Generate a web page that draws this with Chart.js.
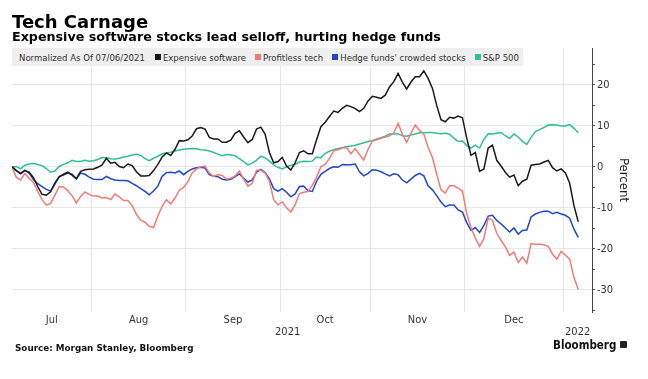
<!DOCTYPE html>
<html>
<head>
<meta charset="utf-8">
<script src="https://cdn.jsdelivr.net/npm/chart.js@4.4.1/dist/chart.umd.min.js"></script>
<style>
  html, body { margin: 0; padding: 0; background: #fff; width: 648px; height: 379px; overflow: hidden; }
  #wrap { position: relative; width: 648px; height: 379px; }
  #chart { position: absolute; left: 0; top: 0; }
  .txt { position: absolute; white-space: nowrap; line-height: 1; color: #000; }
  #title { left: 12px; top: 11px; font: bold 18px "DejaVu Sans"; }
  #subtitle { left: 12px; top: 29px; font: bold 12.7px "DejaVu Sans"; }
  #legend { position: absolute; left: 12px; top: 48px; width: 511px; height: 18px; background: #efefef;
            display: flex; align-items: center; font: 9.5px "DejaVu Sans Condensed", "DejaVu Sans"; color: #333;
            white-space: nowrap; box-sizing: border-box; padding-left: 7px; z-index: 2; }
  #legend .pre { margin-right: 10px; }
  #legend .item { display: flex; align-items: center; margin-right: 9px; }
  #legend .sw { width: 6px; height: 6px; margin-right: 2px; }
  #source { left: 15px; top: 343px; font: bold 8.8px "DejaVu Sans"; color: #111; }
  #brand { left: 553px; top: 338px; font: bold 11.5px "DejaVu Sans Condensed", "DejaVu Sans"; color: #111; }
  #logo { position: absolute; left: 620px; top: 341px; width: 7px; height: 7px; background: #222; border-radius: 1px; }
</style>
</head>
<body>
<div id="wrap">
  <canvas id="chart" width="648" height="379"></canvas>
  <div class="txt" id="title">Tech Carnage</div>
  <div class="txt" id="subtitle">Expensive software stocks lead selloff, hurting hedge funds</div>
  <div id="legend"></div>
  <div class="txt" id="source">Source: Morgan Stanley, Bloomberg</div>
  <div class="txt" id="brand">Bloomberg</div>
  <div id="logo"></div>
</div>
<script>
// ---------------- data ----------------
const startDate = '2021-07-06';      // normalization date (first weekday)
const weekdayCount = 133;            // weekdays through 2022-01-06
const legendPrefix = 'Normalized As Of 07/06/2021';
const seriesNames = ['Expensive software', 'Profitless tech', "Hedge funds' crowded stocks", 'S&P 500'];
const monthLabels = ['Jul', 'Aug', 'Sep', 'Oct', 'Nov', 'Dec'];
const yearLabels = ['2021', '2022'];
const yTickValues = [-30, -20, -10, 0, 10, 20];

const expensiveSoftware = [
  0,-0.9,-1.7,-0.9,-1.3,-2.6,-4.8,-6.7,-6.9,-6.1,
  -3.9,-2.5,-1.8,-1.3,-2.0,-2.9,-1.1,-0.7,-0.6,-0.5,
  -0.1,0.5,2.1,0.9,1.1,0.1,-0.2,0.7,0.3,-1.2,
  -2.2,-2.2,-2.1,-0.9,0.6,2.4,3.4,2.8,4.3,6.4,
  6.3,6.6,7.5,9.3,9.6,9.2,7.2,6.8,6.8,6.0,
  6.0,6.5,8.2,8.8,7.3,5.9,6.7,9.2,9.7,8.0,
  3.5,1.0,1.3,2.3,0.2,-0.8,1.0,3.5,3.9,3.2,
  3.2,6.6,9.8,10.9,12.3,13.6,13.3,14.3,15.0,14.7,
  14.2,13.5,14.3,16.1,17.2,17.0,16.7,17.5,19.5,20.8,
  22.8,20.7,19.0,20.7,22.0,22.0,23.4,21.6,19.2,15.0,
  11.5,11.0,12.1,11.9,12.4,12.0,7.0,2.8,3.5,-1.1,
  -0.5,4.6,5.3,1.6,0.2,-1.3,-2.5,-2.0,-4.6,-3.5,
  -3.0,0.4,0.6,0.7,1.2,1.6,-0.2,-1.0,-0.5,-1.5,
  -4.0,-9.5,-13.4
];
const profitlessTech = [
  0,-2.5,-3.2,-1.6,-2.8,-3.8,-6.0,-8.0,-9.3,-8.9,
  -6.9,-4.8,-4.9,-5.8,-7.0,-8.8,-7.2,-6.1,-6.7,-7.1,
  -7.1,-7.6,-7.5,-8.0,-6.6,-7.3,-8.2,-8.2,-9.4,-11.6,
  -13.0,-13.5,-14.5,-14.8,-12.0,-9.6,-8.0,-9.0,-7.6,-5.7,
  -5.0,-3.6,-1.5,-0.5,0.0,0.2,-1.5,-2.3,-1.9,-2.1,
  -3.0,-2.8,-2.2,-1.0,-3.0,-4.7,-4.0,-0.8,-0.8,-1.5,
  -3.5,-8.0,-9.3,-8.5,-10.0,-11.0,-9.2,-6.5,-6.2,-6.0,
  -4.5,-2.5,0.0,0.6,2.0,3.9,4.2,4.6,4.7,3.2,
  4.5,3.0,1.7,4.3,6.3,6.6,7.0,7.3,7.6,8.3,
  10.6,8.0,6.0,8.2,10.2,8.9,8.0,4.8,2.3,-1.8,
  -5.6,-6.4,-4.6,-4.6,-5.2,-5.9,-11.5,-14.8,-17.4,-19.4,
  -17.5,-12.5,-13.0,-16.2,-17.9,-19.5,-21.6,-20.8,-23.3,-22.0,
  -23.5,-18.7,-18.9,-18.9,-19.0,-19.4,-21.3,-22.5,-20.6,-21.5,
  -22.5,-27.0,-29.9
];
const hedgeFundsCrowded = [
  0,-0.9,-1.5,-0.8,-1.5,-3.1,-4.1,-4.8,-5.5,-5.9,
  -4.2,-2.3,-2.0,-1.5,-1.8,-2.9,-1.5,-1.8,-2.5,-3.0,
  -3.1,-3.1,-2.3,-2.9,-3.2,-3.3,-3.3,-3.4,-4.0,-4.6,
  -5.3,-6.0,-6.8,-5.9,-4.7,-2.3,-1.4,-1.3,-1.5,-1.0,
  -1.9,-1.1,-0.5,-0.2,-0.1,-0.3,-1.9,-2.3,-2.4,-3.0,
  -3.2,-3.0,-2.4,-1.7,-2.8,-3.7,-3.2,-1.3,-0.6,-1.4,
  -2.9,-5.3,-5.9,-5.3,-6.2,-7.3,-6.6,-4.8,-4.7,-5.8,
  -6.0,-3.5,-1.8,-1.1,-0.4,0.0,-0.1,0.6,0.5,0.5,
  0.7,-1.2,-2.2,-1.6,-0.7,-0.8,-1.2,-1.7,-2.2,-1.7,
  -1.9,-3.2,-3.9,-3.0,-2.1,-1.6,-2.2,-4.6,-5.6,-7.0,
  -8.6,-9.7,-9.3,-9.3,-10.5,-11.0,-13.6,-15.5,-14.8,-16.0,
  -14.3,-12.0,-11.8,-13.1,-13.9,-14.9,-15.9,-14.9,-16.4,-15.5,
  -15.4,-12.2,-11.5,-11.1,-10.8,-10.8,-11.4,-11.1,-11.5,-11.8,
  -12.5,-15.2,-17.2
];
const sp500 = [
  0,0.1,-0.5,0.4,0.7,0.8,0.6,0.3,-0.4,-1.3,
  -1.0,0.1,0.6,1.0,1.6,1.3,1.3,1.6,1.4,1.5,
  1.8,2.3,2.2,2.0,1.9,2.1,2.4,2.6,2.9,3.1,
  2.8,2.0,1.5,2.1,2.6,3.2,3.4,3.6,3.9,4.1,
  4.3,4.4,4.5,4.4,4.2,4.1,3.9,3.5,3.1,2.7,
  3.0,2.9,2.7,2.0,1.3,0.5,0.9,1.6,2.6,2.2,
  1.4,0.5,-0.1,-0.5,0.0,0.4,0.6,1.2,1.4,1.3,
  1.4,2.4,2.2,3.3,3.8,4.2,4.5,4.7,5.0,5.1,
  5.3,5.6,5.9,6.2,6.4,6.8,7.1,7.5,8.0,8.0,
  8.1,7.6,7.5,7.8,8.0,8.3,8.3,8.4,8.4,8.2,
  8.1,8.2,8.0,7.0,6.2,6.3,5.2,4.6,5.3,4.6,
  6.7,8.1,8.0,8.2,8.4,7.6,6.9,8.0,7.3,6.2,
  5.5,7.2,8.6,9.1,9.6,10.2,10.3,10.2,10.0,10.0,
  10.3,9.4,8.3
];

// ---------------- helpers ----------------
function weekdaysFrom(start, n) {
  const out = [];
  const d = new Date(start + 'T00:00:00Z');
  while (out.length < n) {
    const w = d.getUTCDay();
    if (w !== 0 && w !== 6) out.push(d.toISOString().slice(0, 10));
    d.setUTCDate(d.getUTCDate() + 1);
  }
  return out;
}
const dates = weekdaysFrom(startDate, weekdayCount);

// month boundaries sit half a weekday before each month's first weekday
const boundaries = [];
for (let i = 1; i < dates.length; i++) {
  if (dates[i].slice(0, 7) !== dates[i - 1].slice(0, 7)) boundaries.push(i - 0.5);
}
const X_MIN = 0, X_MAX = 135.2;
const monthEdges = [X_MIN].concat(boundaries);
const monthMids = monthLabels.map((_, k) => (monthEdges[k] + monthEdges[k + 1]) / 2);
const yearBoundary = boundaries[boundaries.length - 1];
const yearMids = [(X_MIN + yearBoundary) / 2, (yearBoundary + X_MAX) / 2];

const colors = ['#1a1a1a', '#f27b78', '#2146c9', '#2fbf93'];
const seriesValues = [expensiveSoftware, profitlessTech, hedgeFundsCrowded, sp500];

const GRID = '#e7e7e7';
const isBoundary = v => boundaries.some(b => Math.abs(b - v) < 1e-6);

const chart = new Chart(document.getElementById('chart'), {
  type: 'line',
  data: {
    datasets: seriesNames.map((name, s) => ({
      label: name,
      data: seriesValues[s].map((v, i) => ({ x: i, y: v })),
      borderColor: colors[s],
      backgroundColor: colors[s],
      borderWidth: 1.5,
      pointRadius: 0,
      tension: 0,
      fill: false
    }))
  },
  options: {
    responsive: false,
    animation: false,
    devicePixelRatio: 1,
    layout: { padding: { left: 12, top: 48, right: 0, bottom: 40 } },
    plugins: { legend: { display: false }, tooltip: { enabled: false } },
    scales: {
      x: {
        type: 'linear', position: 'bottom', min: X_MIN, max: X_MAX, weight: 0,
        afterBuildTicks: s => { s.ticks = boundaries.concat(monthMids).sort((a, b) => a - b).map(v => ({ value: v })); },
        afterFit: s => { s.height = 15; },
        grid: { color: c => (c.tick && isBoundary(c.tick.value)) ? GRID : 'rgba(0,0,0,0)', drawTicks: false, lineWidth: 1 },
        border: { display: false },
        ticks: {
          autoSkip: false, maxRotation: 0, padding: 3, color: '#333',
          font: { family: '"DejaVu Sans Condensed", "DejaVu Sans"', size: 11, lineHeight: 1 },
          callback: v => { const k = monthMids.findIndex(m => Math.abs(m - v) < 1e-6); return k >= 0 ? monthLabels[k] : ''; }
        }
      },
      xYear: {
        type: 'linear', position: 'bottom', min: X_MIN, max: X_MAX, weight: 1,
        afterBuildTicks: s => { s.ticks = yearMids.map(v => ({ value: v })); },
        afterFit: s => { s.height = 12; },
        grid: { display: false, drawTicks: false },
        border: { display: false },
        ticks: {
          autoSkip: false, maxRotation: 0, padding: 0, color: '#333',
          font: { family: '"DejaVu Sans Condensed", "DejaVu Sans"', size: 11, lineHeight: 1 },
          callback: v => { const k = yearMids.findIndex(m => Math.abs(m - v) < 1e-6); return k >= 0 ? yearLabels[k] : ''; }
        }
      },
      y: {
        type: 'linear', position: 'right', min: -35.4, max: 29,
        afterFit: s => { s.width = 56; },
        ticks: {
          stepSize: 5, includeBounds: false, padding: 2, color: '#333',
          font: { family: '"DejaVu Sans Condensed", "DejaVu Sans"', size: 11 },
          callback: v => { const r = Math.round(v); return yTickValues.includes(r) && Math.abs(r - v) < 1e-6 ? String(r) : ''; }
        },
        grid: {
          color: c => (c.tick && yTickValues.includes(Math.round(c.tick.value))) ? GRID : 'rgba(0,0,0,0)',
          tickColor: '#555', tickLength: 3, drawTicks: true, lineWidth: 1
        },
        border: { display: true, color: '#444', width: 1 },
        title: {
          display: true, text: 'Percent', color: '#222',
          font: { family: '"DejaVu Sans Condensed", "DejaVu Sans"', size: 13 },
          padding: { top: 17, bottom: 0 }
        }
      }
    }
  }
});

// HTML legend built from the chart's datasets
const legendEl = document.getElementById('legend');
const pre = document.createElement('span');
pre.className = 'pre';
pre.textContent = legendPrefix;
legendEl.appendChild(pre);
chart.data.datasets.forEach(ds => {
  const item = document.createElement('span');
  item.className = 'item';
  const sw = document.createElement('span');
  sw.className = 'sw';
  sw.style.background = ds.borderColor;
  const t = document.createElement('span');
  t.textContent = ds.label;
  item.appendChild(sw);
  item.appendChild(t);
  legendEl.appendChild(item);
});
</script>
</body>
</html>
